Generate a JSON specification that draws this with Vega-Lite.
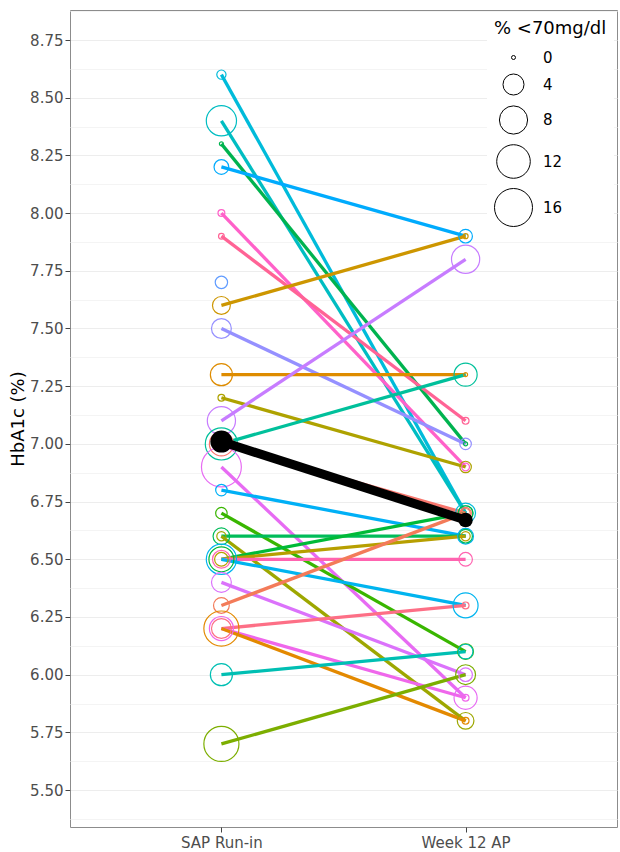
{
  "$schema": "https://vega.github.io/schema/vega-lite/v6.json",
  "width": 547,
  "height": 817,
  "autosize": {"type": "none"},
  "padding": {"left": 70, "top": 10, "right": 3, "bottom": 25},
  "background": "white",
  "config": {"view": {"stroke": "#8C8C8C", "strokeWidth": 1}, "font": "DejaVu Sans"},
  "datasets": {
    "subjects": [
      {"subject": "s01", "time": "SAP Run-in", "hba1c": 8.6, "hypo": 0.5},
      {"subject": "s01", "time": "Week 12 AP", "hba1c": 6.7, "hypo": 3.5},
      {"subject": "s02", "time": "SAP Run-in", "hba1c": 8.4, "hypo": 9.4},
      {"subject": "s02", "time": "Week 12 AP", "hba1c": 6.7, "hypo": 1.7},
      {"subject": "s03", "time": "SAP Run-in", "hba1c": 8.3, "hypo": 0},
      {"subject": "s03", "time": "Week 12 AP", "hba1c": 7.0, "hypo": 0},
      {"subject": "s04", "time": "SAP Run-in", "hba1c": 8.2, "hypo": 1.7},
      {"subject": "s04", "time": "Week 12 AP", "hba1c": 7.9, "hypo": 1.4},
      {"subject": "s05", "time": "SAP Run-in", "hba1c": 8.0, "hypo": 0.2},
      {"subject": "s05", "time": "Week 12 AP", "hba1c": 6.9, "hypo": 0.3},
      {"subject": "s06", "time": "SAP Run-in", "hba1c": 7.9, "hypo": 0.1},
      {"subject": "s06", "time": "Week 12 AP", "hba1c": 7.1, "hypo": 0.2},
      {"subject": "s07", "time": "SAP Run-in", "hba1c": 7.7, "hypo": 1.1},
      {"subject": "s08", "time": "SAP Run-in", "hba1c": 7.6, "hypo": 2.7},
      {"subject": "s08", "time": "Week 12 AP", "hba1c": 7.9, "hypo": 0.05},
      {"subject": "s09", "time": "SAP Run-in", "hba1c": 7.5, "hypo": 3.5},
      {"subject": "s09", "time": "Week 12 AP", "hba1c": 7.0, "hypo": 0.9},
      {"subject": "s10", "time": "SAP Run-in", "hba1c": 7.3, "hypo": 4.5},
      {"subject": "s10", "time": "Week 12 AP", "hba1c": 7.3, "hypo": 0},
      {"subject": "s11", "time": "SAP Run-in", "hba1c": 7.2, "hypo": 0.2},
      {"subject": "s11", "time": "Week 12 AP", "hba1c": 6.9, "hypo": 0.9},
      {"subject": "s12", "time": "SAP Run-in", "hba1c": 7.1, "hypo": 8},
      {"subject": "s12", "time": "Week 12 AP", "hba1c": 7.8, "hypo": 8},
      {"subject": "s13", "time": "SAP Run-in", "hba1c": 7.0, "hypo": 10.9},
      {"subject": "s13", "time": "Week 12 AP", "hba1c": 7.3, "hypo": 5},
      {"subject": "s14", "time": "SAP Run-in", "hba1c": 7.0, "hypo": 5.5},
      {"subject": "s14", "time": "Week 12 AP", "hba1c": 6.7, "hypo": 0.9},
      {"subject": "s15", "time": "SAP Run-in", "hba1c": 6.9, "hypo": 17.9},
      {"subject": "s15", "time": "Week 12 AP", "hba1c": 5.9, "hypo": 5},
      {"subject": "s16", "time": "SAP Run-in", "hba1c": 6.8, "hypo": 0.9},
      {"subject": "s16", "time": "Week 12 AP", "hba1c": 6.6, "hypo": 2},
      {"subject": "s17", "time": "SAP Run-in", "hba1c": 6.7, "hypo": 0.9},
      {"subject": "s17", "time": "Week 12 AP", "hba1c": 6.1, "hypo": 2},
      {"subject": "s18", "time": "SAP Run-in", "hba1c": 6.6, "hypo": 2.3},
      {"subject": "s18", "time": "Week 12 AP", "hba1c": 6.6, "hypo": 1.4},
      {"subject": "s19", "time": "SAP Run-in", "hba1c": 6.6, "hypo": 0.5},
      {"subject": "s19", "time": "Week 12 AP", "hba1c": 5.8, "hypo": 2.3},
      {"subject": "s20", "time": "SAP Run-in", "hba1c": 6.5, "hypo": 6},
      {"subject": "s20", "time": "Week 12 AP", "hba1c": 6.7, "hypo": 1.7},
      {"subject": "s21", "time": "SAP Run-in", "hba1c": 6.5, "hypo": 1.4},
      {"subject": "s21", "time": "Week 12 AP", "hba1c": 6.6, "hypo": 0.5},
      {"subject": "s22", "time": "SAP Run-in", "hba1c": 6.5, "hypo": 2.7},
      {"subject": "s22", "time": "Week 12 AP", "hba1c": 6.5, "hypo": 1.4},
      {"subject": "s23", "time": "SAP Run-in", "hba1c": 6.5, "hypo": 9.4},
      {"subject": "s23", "time": "Week 12 AP", "hba1c": 6.3, "hypo": 6},
      {"subject": "s24", "time": "SAP Run-in", "hba1c": 6.4, "hypo": 3.5},
      {"subject": "s24", "time": "Week 12 AP", "hba1c": 6.0, "hypo": 1.4},
      {"subject": "s25", "time": "SAP Run-in", "hba1c": 6.3, "hypo": 2},
      {"subject": "s25", "time": "Week 12 AP", "hba1c": 6.7, "hypo": 0.5},
      {"subject": "s26", "time": "SAP Run-in", "hba1c": 6.2, "hypo": 3.5},
      {"subject": "s26", "time": "Week 12 AP", "hba1c": 6.3, "hypo": 0.2},
      {"subject": "s27", "time": "SAP Run-in", "hba1c": 6.2, "hypo": 5.5},
      {"subject": "s27", "time": "Week 12 AP", "hba1c": 5.9, "hypo": 0.2},
      {"subject": "s28", "time": "SAP Run-in", "hba1c": 6.2, "hypo": 13.3},
      {"subject": "s28", "time": "Week 12 AP", "hba1c": 5.8, "hypo": 0.2},
      {"subject": "s29", "time": "SAP Run-in", "hba1c": 6.0, "hypo": 4.5},
      {"subject": "s29", "time": "Week 12 AP", "hba1c": 6.1, "hypo": 1.7},
      {"subject": "s30", "time": "SAP Run-in", "hba1c": 5.7, "hypo": 13.3},
      {"subject": "s30", "time": "Week 12 AP", "hba1c": 6.0, "hypo": 3.5}
    ],
    "mean": [
      {"time": "SAP Run-in", "hba1c": 7.01, "hypo": 4.5},
      {"time": "Week 12 AP", "hba1c": 6.67, "hypo": 1.6}
    ]
  },
  "encoding": {
    "x": {
      "field": "time",
      "type": "ordinal",
      "scale": {"type": "point", "domain": ["SAP Run-in", "Week 12 AP"], "padding": 0.62},
      "axis": {
        "title": null,
        "labelAngle": 0,
        "labelFontSize": 15,
        "labelColor": "#4D4D4D",
        "labelPadding": 3,
        "tickColor": "#444444",
        "tickSize": 5,
        "grid": false,
        "domain": false
      }
    },
    "y": {
      "field": "hba1c",
      "type": "quantitative",
      "scale": {"domain": [5.34, 8.88], "nice": false, "zero": false},
      "axis": {
        "title": "HbA1c (%)",
        "titleFontSize": 18,
        "titleFontWeight": "normal",
        "titleColor": "black",
        "titlePadding": 2,
        "values": [5.375, 5.5, 5.625, 5.75, 5.875, 6, 6.125, 6.25, 6.375, 6.5, 6.625, 6.75, 6.875, 7, 7.125, 7.25, 7.375, 7.5, 7.625, 7.75, 7.875, 8, 8.125, 8.25, 8.375, 8.5, 8.625, 8.75, 8.875],
        "labelExpr": "(datum.value * 1000) % 250 == 0 ? format(datum.value, '.2f') : ''",
        "labelFontSize": 15,
        "labelColor": "#4D4D4D",
        "labelPadding": 2,
        "tickColor": "#444444",
        "tickSize": {"condition": {"test": "(datum.value * 1000) % 250 != 0", "value": 0}, "value": 5},
        "gridColor": {"condition": {"test": "(datum.value * 1000) % 250 != 0", "value": "#F4F4F4"}, "value": "#EDEDED"},
        "gridWidth": 1,
        "domain": false
      }
    }
  },
  "layer": [
    {
      "data": {"name": "subjects"},
      "mark": {"type": "line", "strokeWidth": 3.3},
      "encoding": {
        "color": {
          "field": "subject",
          "type": "nominal",
          "scale": {
            "domain": ["s01","s02","s03","s04","s05","s06","s07","s08","s09","s10","s11","s12","s13","s14","s15","s16","s17","s18","s19","s20","s21","s22","s23","s24","s25","s26","s27","s28","s29","s30"],
            "range": ["#00BBDA","#00BDC2","#00B34F","#00ABFD","#FF61C9","#FF6395","#619CFF","#CD9600","#9590FF","#DE8C00","#AEA200","#C77CFF","#00C09B","#F8766D","#E76BF3","#00B0F6","#39B600","#00BC59","#9DA700","#00BA38","#B79F00","#FF64B0","#00B4EF","#DB72FB","#F37B59","#FD6F86","#EF67EB","#E38900","#00BFB3","#7CAE00"]
          },
          "legend": null
        },
        "detail": {"field": "subject"}
      }
    },
    {
      "data": {"name": "subjects"},
      "mark": {"type": "point", "shape": "circle", "filled": false, "strokeWidth": 1.2, "opacity": 1},
      "encoding": {
        "color": {"field": "subject", "type": "nominal", "legend": null},
        "size": {
          "field": "hypo",
          "type": "quantitative",
          "scale": {"type": "pow", "exponent": 0.874, "domain": [0, 16], "range": [16, 1444]},
          "legend": {
            "title": "% <70mg/dl",
            "values": [0, 4, 8, 12, 16],
            "orient": "top-right",
            "offset": 3,
            "padding": 7,
            "fillColor": "white",
            "titleFontSize": 18,
            "titleFontWeight": "normal",
            "titleColor": "black",
            "titlePadding": 12,
            "labelFontSize": 15,
            "labelColor": "black",
            "labelOffset": 10,
            "rowPadding": 5,
            "symbolType": "circle",
            "symbolStrokeColor": "black",
            "symbolFillColor": "transparent",
            "symbolStrokeWidth": 1
          }
        }
      }
    },
    {
      "data": {"name": "mean"},
      "mark": {"type": "line", "strokeWidth": 9, "color": "black"},
      "encoding": {}
    },
    {
      "data": {"name": "mean"},
      "mark": {"type": "point", "shape": "circle", "filled": true, "color": "black", "opacity": 1},
      "encoding": {
        "size": {"field": "hypo", "type": "quantitative", "legend": null}
      }
    }
  ]
}
